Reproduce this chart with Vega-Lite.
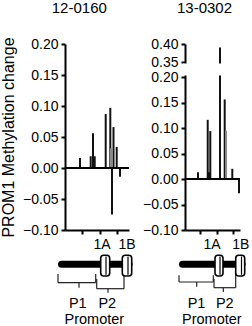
{
  "$schema": "https://vega.github.io/schema/vega-lite/v6.json",
  "padding": {"left": 0, "top": 0, "right": 0, "bottom": 0},
  "background": "white",
  "config": {
    "view": {"stroke": null},
    "font": "Liberation Sans",
    "axis": {"domainColor": "black", "domainWidth": 2, "tickColor": "black", "tickWidth": 2, "tickSize": 4, "tickCount": 50, "labelFontSize": 14, "labelColor": "black", "labelFont": "Liberation Sans", "labelPadding": 3, "labelFlush": false, "labelOverlap": false, "labelBound": false, "grid": false, "titleColor": "black", "titleFont": "Liberation Sans", "titleFontWeight": "normal", "titleFontSize": 16}
  },
  "datasets": {
    "bars12": [
      {"pos": 15, "value": 0.016, "shade": "dark"},
      {"pos": 25.7, "value": 0.019, "shade": "dark"},
      {"pos": 28, "value": 0.056, "shade": "dark"},
      {"pos": 29.7, "value": 0.019, "shade": "dark"},
      {"pos": 40.7, "value": 0.087, "shade": "dark"},
      {"pos": 45.3, "value": 0.097, "shade": "dark"},
      {"pos": 46, "value": 0.032, "shade": "gray"},
      {"pos": 47, "value": -0.075, "shade": "dark"},
      {"pos": 48.5, "value": 0.066, "shade": "dark"},
      {"pos": 51.7, "value": 0.034, "shade": "dark"},
      {"pos": 55, "value": -0.014, "shade": "dark"}
    ],
    "bars13": [
      {"pos": 13, "value": 0.013, "shade": "dark"},
      {"pos": 22.7, "value": 0.116, "shade": "dark"},
      {"pos": 24, "value": 0.013, "shade": "dark"},
      {"pos": 25.3, "value": 0.094, "shade": "dark"},
      {"pos": 35, "value": 0.39, "shade": "dark"},
      {"pos": 39.7, "value": 0.156, "shade": "dark"},
      {"pos": 41, "value": 0.095, "shade": "gray"},
      {"pos": 47.3, "value": 0.02, "shade": "dark"},
      {"pos": 54, "value": -0.028, "shade": "dark"}
    ],
    "zero": [{"value": 0}],
    "axisbreak": [{"from": 0.215, "to": 0.335, "left": -2, "right": 57}],
    "diag12": [
      {"kind": "line", "x": -3.5, "x2": 64, "y": 27.3, "y2": 27.3},
      {"kind": "brace", "x": -7, "x2": -7, "y": 37, "y2": 45.7},
      {"kind": "brace", "x": -7, "x2": 30.7, "y": 45.7, "y2": 45.7},
      {"kind": "brace", "x": 30.7, "x2": 30.7, "y": 37, "y2": 45.7},
      {"kind": "brace", "x": 14, "x2": 14, "y": 45.7, "y2": 50.7},
      {"kind": "brace", "x": 31.7, "x2": 31.7, "y": 42, "y2": 51.7},
      {"kind": "brace", "x": 31.7, "x2": 59, "y": 51.7, "y2": 51.7},
      {"kind": "brace", "x": 59, "x2": 59, "y": 37, "y2": 51.7},
      {"kind": "brace", "x": 43, "x2": 43, "y": 51.7, "y2": 55.7},
      {"kind": "exon", "x": 35.7, "x2": 44.7, "y": 18.3, "y2": 39},
      {"kind": "exon", "x": 57.3, "x2": 66.7, "y": 18.3, "y2": 39},
      {"kind": "inner", "x": 41, "x2": 41, "y": 19.5, "y2": 37.8},
      {"kind": "inner", "x": 63, "x2": 63, "y": 19.5, "y2": 37.8},
      {"kind": "exonlabel", "x": 37, "y": 12.3, "label": "1A"},
      {"kind": "exonlabel", "x": 62, "y": 12.3, "label": "1B"},
      {"kind": "label", "x": 12.8, "y": 70.7, "label": "P1"},
      {"kind": "label", "x": 42.3, "y": 70.7, "label": "P2"},
      {"kind": "label", "x": 29.3, "y": 86.5, "label": "Promoter"}
    ],
    "diag13": [
      {"kind": "line", "x": -2.5, "x2": 57, "y": 27.3, "y2": 27.3},
      {"kind": "brace", "x": -6, "x2": -6, "y": 38.3, "y2": 45},
      {"kind": "brace", "x": -6, "x2": 28.3, "y": 45, "y2": 45},
      {"kind": "brace", "x": 28.3, "x2": 28.3, "y": 38.3, "y2": 45},
      {"kind": "brace", "x": 11.7, "x2": 11.7, "y": 45, "y2": 49.7},
      {"kind": "brace", "x": 29, "x2": 29, "y": 42, "y2": 50.7},
      {"kind": "brace", "x": 29, "x2": 50.7, "y": 50.7, "y2": 50.7},
      {"kind": "brace", "x": 50.7, "x2": 50.7, "y": 37, "y2": 50.7},
      {"kind": "brace", "x": 38.3, "x2": 38.3, "y": 50.7, "y2": 55},
      {"kind": "exon", "x": 30, "x2": 38, "y": 18.3, "y2": 39},
      {"kind": "exon", "x": 50.7, "x2": 59.7, "y": 18.3, "y2": 39},
      {"kind": "inner", "x": 35, "x2": 35, "y": 19.5, "y2": 37.8},
      {"kind": "inner", "x": 56.5, "x2": 56.5, "y": 19.5, "y2": 37.8},
      {"kind": "exonlabel", "x": 27, "y": 12.3, "label": "1A"},
      {"kind": "exonlabel", "x": 55.7, "y": 12.3, "label": "1B"},
      {"kind": "label", "x": 11.5, "y": 70.7, "label": "P1"},
      {"kind": "label", "x": 39.8, "y": 70.7, "label": "P2"},
      {"kind": "label", "x": 26.8, "y": 86.5, "label": "Promoter"}
    ]
  },
  "bounds": "flush",
  "align": "each",
  "columns": 2,
  "spacing": {"row": 7, "column": 56},
  "concat": [
    {
      "title": {"text": "12-0160", "fontSize": 15, "fontWeight": "normal", "font": "Liberation Sans", "color": "black", "frame": "group", "anchor": "middle", "offset": 21, "dx": -17.7},
      "width": 64,
      "height": 186,
      "encoding": {
        "y": {"field": "value", "type": "quantitative", "scale": {"domain": [-0.1, 0.2], "nice": false, "zero": false}, "axis": {"values": [-0.1, -0.05, 0, 0.05, 0.1, 0.15, 0.2], "tickCount": 50, "format": ".2f", "title": "PROM1 Methylation change", "titlePadding": 6}}
      },
      "layer": [
        {
          "data": {"name": "bars12"},
          "mark": {"type": "rule", "strokeWidth": 2, "clip": true},
          "encoding": {
            "x": {"field": "pos", "type": "quantitative", "scale": {"domain": [0, 64], "nice": false, "zero": false}, "axis": {"values": [17, 35, 52], "tickCount": 50, "labels": false, "title": null}},
            "y2": {"datum": 0},
            "color": {"field": "shade", "type": "nominal", "scale": {"domain": ["dark", "gray"], "range": ["#111111", "#8a8a8a"]}, "legend": null}
          }
        },
        {
          "data": {"name": "zero"},
          "mark": {"type": "rule", "color": "black", "strokeWidth": 1.8}
        }
      ]
    },
    {
      "title": {"text": "13-0302", "fontSize": 15, "fontWeight": "normal", "font": "Liberation Sans", "color": "black", "frame": "group", "anchor": "middle", "offset": 21, "dx": -8},
      "width": 55,
      "height": 186,
      "layer": [
        {
          "data": {"name": "bars13"},
          "mark": {"type": "rule", "strokeWidth": 2},
          "encoding": {
            "x": {"field": "pos", "type": "quantitative", "scale": {"domain": [0, 55], "nice": false, "zero": false}, "axis": {"values": [14.7, 31.7, 48], "tickCount": 50, "labels": false, "title": null}},
            "y": {"field": "value", "type": "quantitative", "scale": {"domain": [-0.1, 0.2, 0.35, 0.4], "range": [186, 33, 18, 0], "nice": false, "zero": false}, "axis": {"values": [-0.1, -0.05, 0, 0.05, 0.1, 0.15, 0.2, 0.35, 0.4], "tickCount": 50, "format": ".2f", "title": null}},
            "y2": {"datum": 0},
            "color": {"field": "shade", "type": "nominal", "scale": {"domain": ["dark", "gray"], "range": ["#111111", "#8a8a8a"]}, "legend": null}
          }
        },
        {
          "data": {"name": "zero"},
          "mark": {"type": "rule", "color": "black", "strokeWidth": 1.8},
          "encoding": {
            "y": {"field": "value", "type": "quantitative"}
          }
        },
        {
          "data": {"name": "axisbreak"},
          "mark": {"type": "rect", "color": "white"},
          "encoding": {
            "x": {"field": "left", "type": "quantitative"},
            "x2": {"field": "right"},
            "y": {"field": "from", "type": "quantitative"},
            "y2": {"field": "to"}
          }
        }
      ]
    },
    {
      "width": 64,
      "height": 86,
      "data": {"name": "diag12"},
      "encoding": {
        "x": {"field": "x", "type": "quantitative", "scale": {"domain": [0, 64], "nice": false, "zero": false}, "axis": null},
        "y": {"field": "y", "type": "quantitative", "scale": {"domain": [0, 86], "reverse": true, "nice": false, "zero": false}, "axis": null}
      },
      "layer": [
        {"transform": [{"filter": "datum.kind == 'line'"}], "mark": {"type": "rule", "strokeWidth": 7, "strokeCap": "round", "color": "black"}, "encoding": {"x2": {"field": "x2"}, "y2": {"field": "y2"}}},
        {"transform": [{"filter": "datum.kind == 'brace'"}], "mark": {"type": "rule", "strokeWidth": 1.2, "color": "#222222"}, "encoding": {"x2": {"field": "x2"}, "y2": {"field": "y2"}}},
        {"transform": [{"filter": "datum.kind == 'exon'"}], "mark": {"type": "rect", "fill": "white", "stroke": "black", "strokeWidth": 1.6, "cornerRadius": 3}, "encoding": {"x2": {"field": "x2"}, "y2": {"field": "y2"}}},
        {"transform": [{"filter": "datum.kind == 'inner'"}], "mark": {"type": "rule", "strokeWidth": 1.2, "color": "black"}, "encoding": {"x2": {"field": "x2"}, "y2": {"field": "y2"}}},
        {"transform": [{"filter": "datum.kind == 'exonlabel'"}], "mark": {"type": "text", "fontSize": 14, "baseline": "alphabetic", "align": "center", "color": "black"}, "encoding": {"text": {"field": "label"}}},
        {"transform": [{"filter": "datum.kind == 'label'"}], "mark": {"type": "text", "fontSize": 14.5, "baseline": "alphabetic", "align": "center", "color": "black"}, "encoding": {"text": {"field": "label"}}}
      ]
    },
    {
      "width": 55,
      "height": 86,
      "data": {"name": "diag13"},
      "encoding": {
        "x": {"field": "x", "type": "quantitative", "scale": {"domain": [0, 55], "nice": false, "zero": false}, "axis": null},
        "y": {"field": "y", "type": "quantitative", "scale": {"domain": [0, 86], "reverse": true, "nice": false, "zero": false}, "axis": null}
      },
      "layer": [
        {"transform": [{"filter": "datum.kind == 'line'"}], "mark": {"type": "rule", "strokeWidth": 7, "strokeCap": "round", "color": "black"}, "encoding": {"x2": {"field": "x2"}, "y2": {"field": "y2"}}},
        {"transform": [{"filter": "datum.kind == 'brace'"}], "mark": {"type": "rule", "strokeWidth": 1.2, "color": "#222222"}, "encoding": {"x2": {"field": "x2"}, "y2": {"field": "y2"}}},
        {"transform": [{"filter": "datum.kind == 'exon'"}], "mark": {"type": "rect", "fill": "white", "stroke": "black", "strokeWidth": 1.6, "cornerRadius": 3}, "encoding": {"x2": {"field": "x2"}, "y2": {"field": "y2"}}},
        {"transform": [{"filter": "datum.kind == 'inner'"}], "mark": {"type": "rule", "strokeWidth": 1.2, "color": "black"}, "encoding": {"x2": {"field": "x2"}, "y2": {"field": "y2"}}},
        {"transform": [{"filter": "datum.kind == 'exonlabel'"}], "mark": {"type": "text", "fontSize": 14, "baseline": "alphabetic", "align": "center", "color": "black"}, "encoding": {"text": {"field": "label"}}},
        {"transform": [{"filter": "datum.kind == 'label'"}], "mark": {"type": "text", "fontSize": 14.5, "baseline": "alphabetic", "align": "center", "color": "black"}, "encoding": {"text": {"field": "label"}}}
      ]
    }
  ]
}
